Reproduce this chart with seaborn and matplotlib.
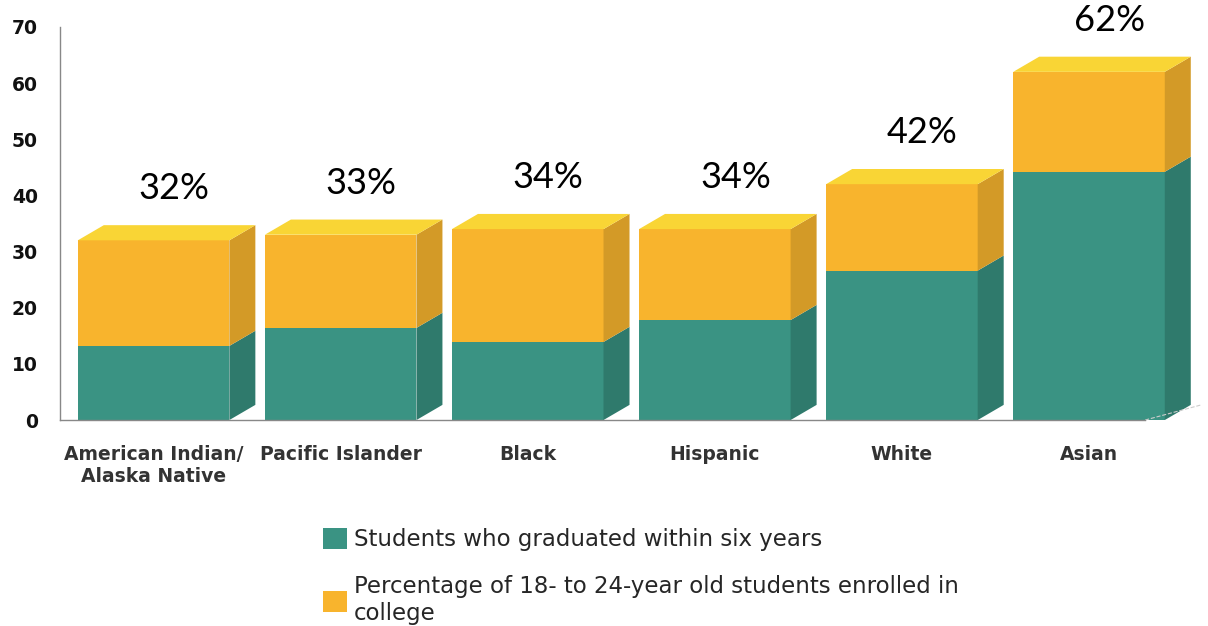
import matplotlib
matplotlib.use("Agg")
import matplotlib.pyplot as plt
from matplotlib.patches import Polygon, Patch
import pandas as pd
import seaborn as sns

sns.set_style("white")
plt.rcParams["font.family"] = ["DejaVu Sans"]

# --- data ---
groups = ["American Indian/\nAlaska Native", "Pacific Islander", "Black", "Hispanic", "White", "Asian"]
enrolled = [32, 33, 34, 34, 42, 62]          # total bar height (%)
graduated = [13.2, 16.4, 13.9, 17.8, 26.6, 44.2]  # green lower segment
pct_labels = ["32%", "33%", "34%", "34%", "42%", "62%"]

green, green_side = "#3A9383", "#2F7A6C"
orange, orange_side, orange_top = "#F8B42D", "#D39A27", "#F9D535"
bar_w = 0.81
dx, dy = 0.139, 2.7   # fake 3D depth (data units)

df = pd.DataFrame({"group": groups, "enrolled": enrolled, "graduated": graduated})

fig = plt.figure(figsize=(12.08, 6.26), dpi=100)
ax = fig.add_axes([0.0497, 0.329, 0.906, 0.628])

sns.barplot(data=df, x="group", y="enrolled", color=orange, width=bar_w,
            saturation=1, ax=ax, linewidth=0)
sns.barplot(data=df, x="group", y="graduated", color=green, width=bar_w,
            saturation=1, ax=ax, linewidth=0)

n = len(groups)
tot_bars = ax.patches[:n]
grd_bars = ax.patches[n:2 * n]
for tb, gb, lab in zip(tot_bars, grd_bars, pct_labels):
    tb.set_clip_on(False)
    gb.set_clip_on(False)
    x0 = tb.get_x()
    x1 = x0 + tb.get_width()
    t = tb.get_height()
    g = gb.get_height()
    ax.add_patch(Polygon([(x1, 0), (x1 + dx, dy), (x1 + dx, g + dy), (x1, g)],
                         closed=True, color=green_side, lw=0, clip_on=False))
    ax.add_patch(Polygon([(x1, g), (x1 + dx, g + dy), (x1 + dx, t + dy), (x1, t)],
                         closed=True, color=orange_side, lw=0, clip_on=False))
    ax.add_patch(Polygon([(x0, t), (x0 + dx, t + dy), (x1 + dx, t + dy), (x1, t)],
                         closed=True, color=orange_top, lw=0, clip_on=False))
    ax.text((x0 + x1) / 2 + 0.11, t + 9.2, lab, ha="center", va="center",
            fontsize=26, color="black", family=["Lato", "DejaVu Sans"])

ax.set_xlim(-0.5, 5.35)
ax.set_ylim(0, 70)
ax.set_yticks(range(0, 71, 10))
ax.set_xlabel("")
ax.set_ylabel("")
ax.tick_params(axis="y", length=0, pad=16, labelsize=13.5, labelcolor="#111111")
ax.tick_params(axis="x", length=0, pad=18, labelsize=13.5, labelcolor="#333333")
for lbl in ax.get_yticklabels() + ax.get_xticklabels():
    lbl.set_fontweight("bold")

sns.despine(ax=ax, top=True, right=True)
for side in ["left", "bottom"]:
    ax.spines[side].set_color("#888888")
    ax.spines[side].set_linewidth(1)
ax.spines["bottom"].set_bounds(-0.5, 5.3)

# floor edge hint at the right
ax.plot([5.3, 5.3 + 0.3], [0, dy], ls="--", color="#cccccc", lw=0.8, clip_on=False)

handles = [Patch(facecolor=green, edgecolor="none"), Patch(facecolor=orange, edgecolor="none")]
labels = ["Students who graduated within six years",
          "Percentage of 18- to 24-year old students enrolled in\ncollege"]
fig.legend(handles, labels, loc="upper left", bbox_to_anchor=(0.25, 0.19),
           frameon=False, fontsize=16.5, handlelength=1.05, handleheight=1.05,
           handletextpad=0.3, labelspacing=1.05)

fig.savefig("out.png", dpi=100)
